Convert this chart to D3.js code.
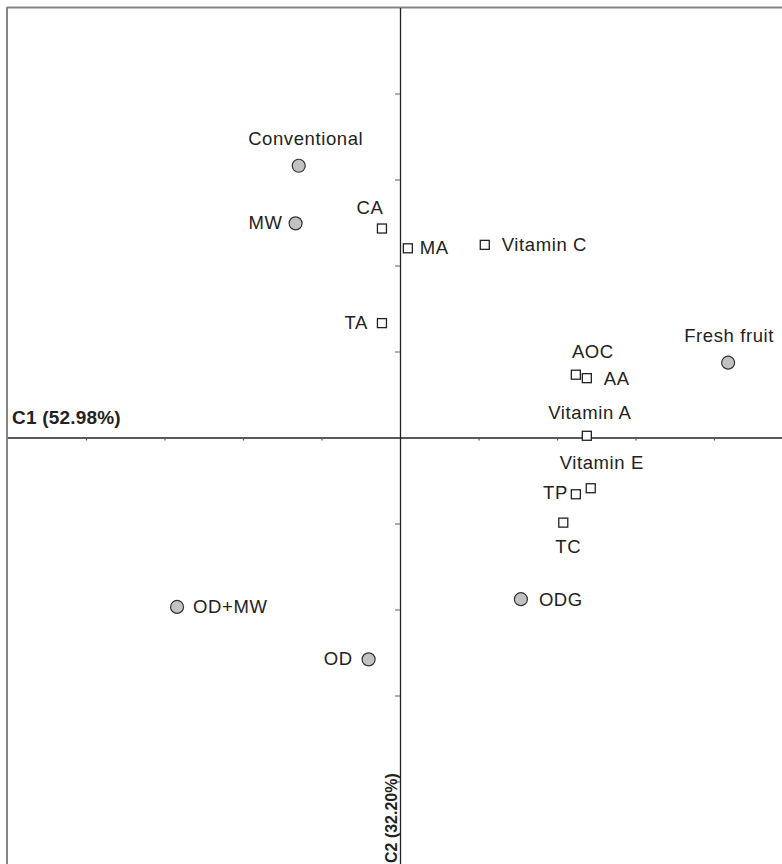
<!DOCTYPE html>
<html>
<head>
<meta charset="utf-8">
<script src="https://cdn.jsdelivr.net/npm/d3@7/dist/d3.min.js"></script>
<style>
  html, body { margin: 0; padding: 0; background: #fff; }
  svg { display: block; }
  text { font-family: "Liberation Sans", Arial, sans-serif; fill: #222; }
</style>
</head>
<body>
<svg id="chart" width="782" height="864"></svg>
<script>
// Treatment scores on the first two components (circles)
const scoreNames = ["Conventional", "MW", "Fresh fruit", "OD+MW", "OD", "ODG"];
const scoreC1 = [-1.29, -1.33, 4.18, -2.84, -0.40, 1.54];
const scoreC2 = [3.16, 2.49, 0.87, -1.97, -2.58, -1.88];

// Variable loadings on the first two components (squares)
const varNames = ["CA", "MA", "Vitamin C", "TA", "AOC", "AA", "Vitamin A", "Vitamin E", "TP", "TC"];
const varC1 = [-0.23, 0.10, 1.08, -0.23, 2.24, 2.38, 2.38, 2.43, 2.24, 2.08];
const varC2 = [2.43, 2.20, 2.24, 1.33, 0.73, 0.69, 0.02, -0.59, -0.66, -0.99];

// Axis ticks
const tickValues = [-4, -3, -2, -1, 1, 2, 3, 4];
const axisTitleX = "C1 (52.98%)";
const axisTitleY = "C2 (32.20%)";

// Label placement (offset from mark centre, anchor)
const labelPlacement = {
  "Conventional": [7, -21, "middle"],
  "MW": [-13, 6, "end"],
  "Fresh fruit": [1, -21, "middle"],
  "OD+MW": [16, 6, "start"],
  "OD": [-16, 6, "end"],
  "ODG": [18, 7, "start"],
  "CA": [-12, -15, "middle"],
  "MA": [12, 6, "start"],
  "Vitamin C": [17, 6, "start"],
  "TA": [-14, 6, "end"],
  "AOC": [17, -17, "middle"],
  "AA": [17, 7, "start"],
  "Vitamin A": [3, -17, "middle"],
  "Vitamin E": [11, -19, "middle"],
  "TP": [-8, 5, "end"],
  "TC": [5, 30, "middle"]
};

const svg = d3.select("#chart");

const x = d3.scaleLinear().domain([-5, 5]).range([7.5, 792.5]);
const y = d3.scaleLinear().domain([-5, 5]).range([867.5, 7.5]);

// Outer frame (top and left edges visible)
svg.append("line")
  .attr("x1", 7).attr("x2", 782).attr("y1", 7.5).attr("y2", 7.5)
  .attr("stroke", "#858585").attr("stroke-width", 2);
svg.append("line")
  .attr("x1", 7).attr("x2", 7).attr("y1", 7).attr("y2", 864)
  .attr("stroke", "#858585").attr("stroke-width", 2);

// Horizontal axis through C2 = 0
const xAxis = svg.append("g")
  .attr("transform", `translate(0,${y(0)})`)
  .call(d3.axisBottom(x).tickValues(tickValues).tickSize(3).tickSizeOuter(0).tickFormat(""));
xAxis.select(".domain").attr("stroke", "#222").attr("stroke-width", 1.3);
xAxis.selectAll(".tick line").attr("stroke", "#555").attr("stroke-width", 1.2);

// Vertical axis through C1 = 0
const yAxis = svg.append("g")
  .attr("transform", `translate(${x(0)},0)`)
  .call(d3.axisLeft(y).tickValues(tickValues).tickSize(5).tickSizeOuter(0).tickFormat(""));
yAxis.select(".domain").attr("stroke", "#222").attr("stroke-width", 1.3);
yAxis.selectAll(".tick line").attr("stroke", "#777").attr("stroke-width", 1.2);

// Axis titles
svg.append("text")
  .attr("x", 12).attr("y", 424)
  .attr("font-size", 19).attr("font-weight", "bold")
  .attr("letter-spacing", 0.2)
  .text(axisTitleX);
svg.append("text")
  .attr("transform", `translate(${x(0) - 3},863) rotate(-90)`)
  .attr("text-anchor", "start")
  .attr("font-size", 16).attr("font-weight", "bold")
  .text(axisTitleY);

const scores = scoreNames.map((n, i) => ({ name: n, c1: scoreC1[i], c2: scoreC2[i] }));
const vars = varNames.map((n, i) => ({ name: n, c1: varC1[i], c2: varC2[i] }));

// Variable markers
svg.append("g").selectAll("rect").data(vars).join("rect")
  .attr("x", d => x(d.c1) - 4.5).attr("y", d => y(d.c2) - 4.5)
  .attr("width", 9).attr("height", 9)
  .attr("fill", "#fff").attr("stroke", "#222").attr("stroke-width", 1.3);

// Treatment markers
svg.append("g").selectAll("circle").data(scores).join("circle")
  .attr("cx", d => x(d.c1)).attr("cy", d => y(d.c2)).attr("r", 6.5)
  .attr("fill", "#c2c2c2").attr("stroke", "#333").attr("stroke-width", 1.2);

// Point labels
svg.append("g").selectAll("text").data(scores.concat(vars)).join("text")
  .attr("x", d => x(d.c1) + labelPlacement[d.name][0])
  .attr("y", d => y(d.c2) + labelPlacement[d.name][1])
  .attr("text-anchor", d => labelPlacement[d.name][2])
  .attr("font-size", 18.5)
  .attr("letter-spacing", 0.6)
  .text(d => d.name);
</script>
</body>
</html>
